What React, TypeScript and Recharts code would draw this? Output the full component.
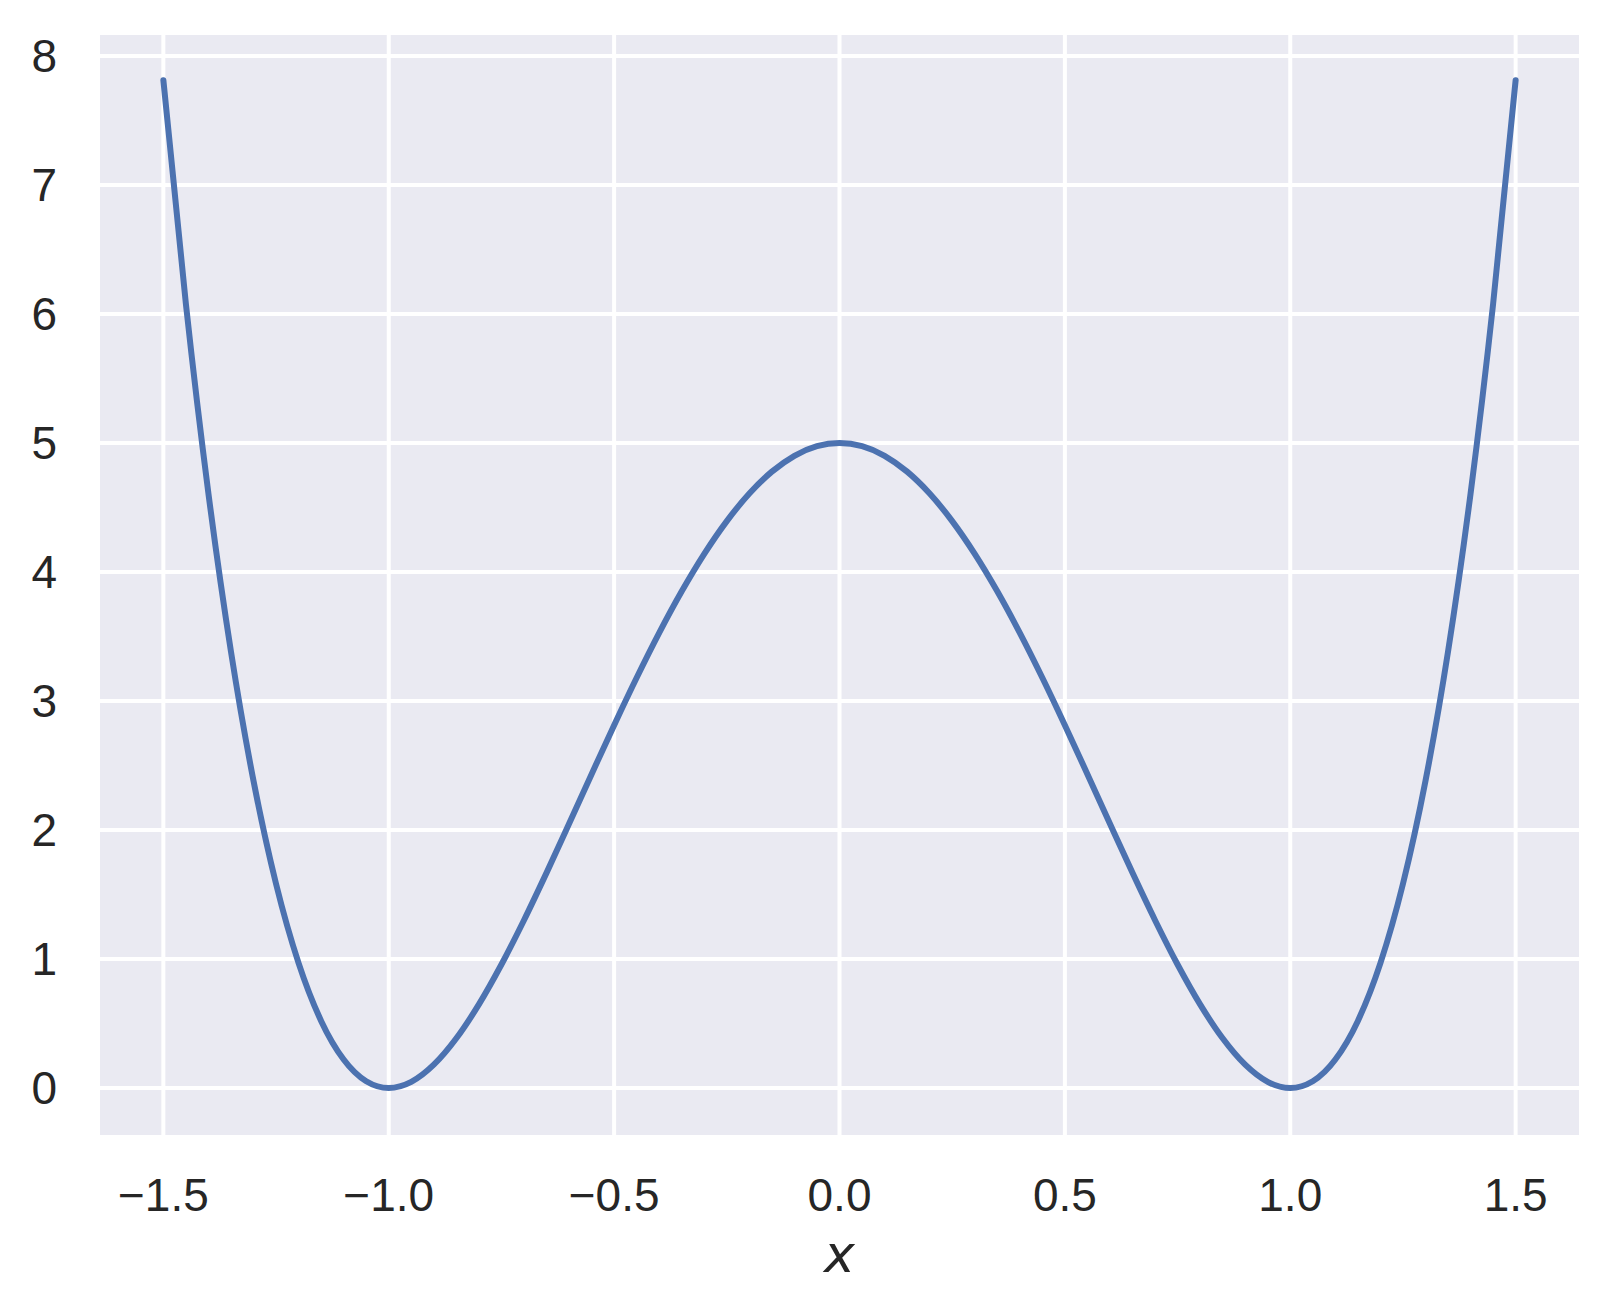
import { LineChart, Line, XAxis, YAxis, CartesianGrid, Label } from 'recharts'

// x positions and the curve values
const xValues = [
  -1.5, -1.45, -1.4, -1.35, -1.3, -1.25, -1.2, -1.15, -1.1, -1.05,
  -1.0, -0.95, -0.9, -0.85, -0.8, -0.75, -0.7, -0.65, -0.6, -0.55,
  -0.5, -0.45, -0.4, -0.35, -0.3, -0.25, -0.2, -0.15, -0.1, -0.05,
  0.0, 0.05, 0.1, 0.15, 0.2, 0.25, 0.3, 0.35, 0.4, 0.45,
  0.5, 0.55, 0.6, 0.65, 0.7, 0.75, 0.8, 0.85, 0.9, 0.95,
  1.0, 1.05, 1.1, 1.15, 1.2, 1.25, 1.3, 1.35, 1.4, 1.45, 1.5,
]

const yValues = [
  7.8125, 6.0775, 4.608, 3.3825, 2.3805, 1.582, 0.968, 0.52, 0.2205, 0.0525,
  0, 0.0475, 0.1805, 0.385, 0.648, 0.957, 1.3005, 1.6675, 2.048, 2.4325,
  2.8125, 3.18, 3.528, 3.85, 4.1405, 4.3945, 4.608, 4.7775, 4.9005, 4.975,
  5, 4.975, 4.9005, 4.7775, 4.608, 4.3945, 4.1405, 3.85, 3.528, 3.18,
  2.8125, 2.4325, 2.048, 1.6675, 1.3005, 0.957, 0.648, 0.385, 0.1805, 0.0475,
  0, 0.0525, 0.2205, 0.52, 0.968, 1.582, 2.3805, 3.3825, 4.608, 6.0775, 7.8125,
]

const xTicks = [-1.5, -1.0, -0.5, 0.0, 0.5, 1.0, 1.5]
const yTicks = [0, 1, 2, 3, 4, 5, 6, 7, 8]

const data = xValues.map((x, i) => ({ x, y: yValues[i] }))

const tickStyle = { fill: '#262626', fontSize: 46, fontFamily: '"Liberation Sans", Arial, sans-serif' }

const fmtX = (v: number) => v.toFixed(1).replace('-', '\u2212')

export default function App() {
  return (
    <div style={{ position: 'absolute', left: 0, top: 0, background: '#fff' }}>
      <LineChart width={1613} height={1312} data={data} margin={{ top: 33, right: 32, left: 0, bottom: 0 }}>
        <CartesianGrid fill="#EAEAF2" stroke="#ffffff" strokeWidth={4} />
        <XAxis
          dataKey="x"
          type="number"
          domain={[-1.645, 1.645]}
          ticks={xTicks}
          allowDataOverflow
          height={175}
          axisLine={false}
          tickLine={false}
          tickSize={0}
          tickMargin={41}
          tick={tickStyle}
          tickFormatter={fmtX}
          interval={0}
        >
          <Label
            value="x"
            position="insideBottom"
            offset={40}
            style={{ fill: '#262626', fontSize: 52, fontStyle: 'italic', fontFamily: '"DejaVu Sans", sans-serif' }}
          />
        </XAxis>
        <YAxis
          type="number"
          domain={[-0.38, 8.178]}
          ticks={yTicks}
          allowDataOverflow
          width={98}
          axisLine={false}
          tickLine={false}
          tickSize={0}
          tickMargin={41}
          tick={tickStyle}
          interval={0}
        />
        <Line
          type="monotone"
          dataKey="y"
          stroke="#4C72B0"
          strokeWidth={6}
          strokeLinecap="round"
          dot={false}
          activeDot={false}
          isAnimationActive={false}
        />
      </LineChart>
    </div>
  )
}
